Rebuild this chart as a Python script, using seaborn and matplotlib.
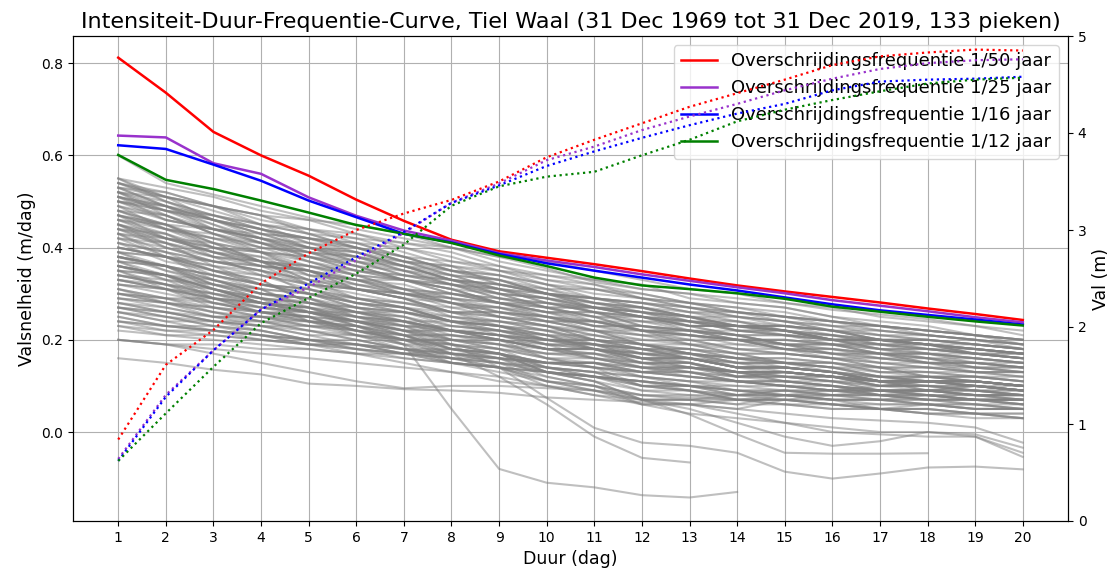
import matplotlib
matplotlib.use("Agg")
import matplotlib.pyplot as plt
from matplotlib.lines import Line2D
import pandas as pd
import seaborn as sns

duur = list(range(1, 21))

# Valsnelheid per piek (cm/dag) voor duur 1..20 dagen; None = reeks eindigt
pieken_hoog = [
    [55, 53, 51, 48, 46, 45, 43, 40, 38, 37, 35, 33, 31, 30, 28, 27, 25, 24, 23, 21],
    [55, 51, 49, 47, 44, 42, 41, 39, 36, 34, 33, 31, 30, 28, 27, 25, 24, 23, 21, 20],
    [54, 52, 49, 47, 46, 43, 41, 40, 37, 35, 33, 32, 29, 28, 27, 25, 23, 22, 21, 19],
    [54, 50, 47, 45, 43, 40, 38, 37, 35, 32, 30, 29, 27, 26, 24, 23, 22, 21, 20, 19],
    [53, 51, 49, 46, 44, 43, 40, 37, 36, 33, 31, 30, 28, 26, 25, 24, 23, 21, 20, 18],
    [53, 49, 46, 44, 42, 39, 37, 34, 33, 31, 29, 28, 27, 25, 23, 22, 21, 20, 19, 18],
    [53, 52, 49, 45, 43, 42, 39, 36, 35, 33, 32, 29, 28, 27, 25, 24, 23, 22, 21, 20],
    [52, 50, 46, 44, 42, 41, 38, 35, 34, 32, 31, 29, 27, 26, 25, 24, 22, 21, 20, 19],
    [52, 48, 46, 43, 40, 39, 36, 33, 32, 30, 28, 26, 25, 24, 22, 21, 20, 19, 18, 17],
    [52, 51, 48, 45, 44, 41, 40, 38, 35, 34, 32, 30, 28, 27, 26, 24, 23, 22, 21, 20],
    [51, 48, 46, 44, 40, 38, 37, 34, 31, 30, 28, 27, 26, 25, 24, 22, 21, 21, 20, 19],
    [51, 49, 45, 41, 40, 38, 35, 34, 33, 30, 29, 28, 27, 25, 24, 23, 21, 20, 19, 18],
    [51, 48, 47, 44, 42, 41, 38, 35, 34, 32, 29, 28, 26, 24, 23, 21, 20, 19, 18, 17],
    [50, 48, 44, 41, 39, 38, 35, 32, 31, 29, 27, 26, 25, 23, 23, 22, 20, 19, 19, 18],
    [50, 46, 44, 42, 39, 36, 35, 33, 30, 29, 28, 26, 24, 24, 22, 20, 20, 19, 17, 16],
    [50, 49, 46, 43, 42, 40, 37, 36, 34, 31, 31, 29, 28, 26, 25, 24, 23, 22, 21, 20],
    [55, 50, 47, 45, 41, 38, 36, 33, 30, 29, 27, 25, 24, 23, 22, 21, 19, 19, 18, 17],
    [54, 51, 46, 42, 40, 39, 36, 33, 32, 30, 27, 26, 24, 22, 22, 20, 19, 18, 17, 16],
    [52, 47, 44, 42, 38, 35, 34, 32, 29, 28, 26, 23, 22, 21, 19, 19, 18, 17, 15, 15],
    [50, 47, 43, 39, 38, 36, 33, 31, 30, 29, 26, 25, 24, 22, 21, 20, 19, 18, 17, 16],
    [53, 49, 44, 42, 40, 37, 34, 33, 31, 28, 27, 25, 22, 21, 19, 18, 17, 16, 15, 14],
    [51, 46, 44, 41, 37, 35, 33, 30, 29, 27, 24, 23, 21, 20, 18, 17, 16, 15, 14, 13],
    [52, 49, 47, 44, 41, 40, 37, 35, 32, 31, 28, 27, 25, 22, 21, 20, 18, 17, 16, 15],
    [50, 48, 45, 42, 41, 39, 36, 35, 33, 30, 29, 27, 24, 23, 22, 20, 20, 19, 18, 17],
    [54, 51, 49, 47, 43, 40, 38, 35, 33, 30, 29, 28, 26, 26, 25, 23, 23, 22, 21, 20],
    [51, 49, 46, 43, 42, 40, 37, 36, 32, 30, 28, 27, 25, 23, 23, 22, 20, 20, 19, 18],
]

pieken_midden = [
    [49, 46, 44, 43, 40, 37, 36, 34, 31, 30, 29, 27, 25, 25, 24, 22, 22, 21, 20, 19],
    [49, 47, 43, 40, 39, 36, 33, 32, 30, 27, 27, 25, 23, 23, 22, 20, 20, 19, 18, 17],
    [48, 45, 44, 42, 39, 38, 36, 33, 32, 30, 27, 27, 25, 23, 23, 22, 20, 20, 19, 18],
    [48, 44, 42, 40, 37, 34, 33, 31, 28, 28, 26, 24, 24, 23, 21, 21, 20, 18, 18, 17],
    [48, 47, 43, 40, 39, 37, 34, 33, 31, 28, 27, 26, 23, 21, 21, 20, 18, 18, 17, 16],
    [47, 44, 43, 41, 38, 37, 35, 32, 31, 29, 27, 26, 25, 23, 23, 22, 20, 20, 19, 18],
    [47, 45, 41, 37, 36, 34, 31, 30, 28, 26, 25, 24, 22, 22, 21, 19, 19, 18, 17, 16],
    [47, 44, 42, 41, 38, 35, 34, 32, 29, 28, 26, 23, 22, 21, 19, 19, 18, 16, 16, 15],
    [46, 45, 42, 39, 38, 36, 33, 32, 30, 27, 27, 25, 23, 23, 22, 20, 20, 19, 18, 17],
    [46, 42, 40, 39, 35, 33, 32, 29, 28, 26, 23, 23, 22, 20, 20, 19, 17, 17, 16, 15],
    [46, 44, 40, 39, 37, 34, 33, 31, 28, 27, 25, 22, 21, 20, 18, 18, 17, 15, 15, 14],
    [45, 42, 41, 39, 36, 35, 33, 30, 29, 27, 25, 25, 24, 22, 22, 21, 19, 19, 18, 17],
    [45, 43, 39, 36, 35, 33, 30, 29, 27, 24, 24, 22, 20, 20, 19, 17, 17, 16, 14, 14],
    [45, 42, 40, 38, 34, 33, 31, 28, 27, 26, 24, 24, 23, 21, 21, 20, 18, 18, 17, 16],
    [44, 43, 40, 37, 36, 34, 31, 30, 28, 25, 24, 22, 19, 19, 18, 16, 16, 15, 13, 13],
    [44, 40, 38, 37, 33, 32, 30, 27, 27, 25, 23, 23, 22, 20, 20, 19, 17, 17, 16, 15],
    [44, 42, 39, 38, 36, 33, 33, 31, 28, 27, 25, 22, 22, 21, 19, 19, 19, 17, 17, 16],
    [43, 41, 38, 37, 35, 32, 31, 29, 26, 25, 23, 21, 21, 20, 18, 18, 17, 15, 15, 14],
    [43, 39, 37, 36, 32, 31, 29, 26, 26, 24, 22, 22, 21, 19, 19, 18, 16, 16, 15, 14],
    [43, 42, 39, 36, 35, 33, 30, 29, 28, 26, 26, 25, 23, 23, 22, 20, 20, 19, 17, 17],
    [42, 40, 37, 36, 34, 31, 30, 28, 25, 24, 22, 19, 18, 17, 15, 15, 14, 12, 12, 11],
    [42, 38, 37, 35, 32, 31, 29, 26, 25, 23, 20, 19, 17, 15, 15, 14, 12, 12, 11, 10],
    [42, 41, 38, 36, 35, 32, 30, 30, 28, 26, 26, 25, 23, 23, 22, 20, 20, 19, 17, 17],
    [49, 44, 41, 39, 34, 33, 31, 28, 27, 25, 22, 21, 19, 17, 17, 16, 14, 14, 13, 12],
    [48, 45, 40, 37, 35, 31, 30, 28, 25, 24, 22, 19, 18, 17, 15, 15, 14, 12, 12, 12],
    [47, 42, 39, 37, 32, 31, 29, 26, 25, 23, 20, 19, 17, 14, 14, 13, 11, 11, 11, 10],
    [46, 43, 38, 34, 32, 29, 28, 26, 23, 22, 20, 17, 16, 14, 12, 12, 11, 9, 10, 9],
    [45, 40, 37, 35, 30, 29, 27, 24, 23, 21, 18, 17, 15, 12, 12, 11, 9, 9, 9, 8],
    [44, 41, 36, 32, 30, 27, 26, 24, 21, 20, 18, 15, 14, 13, 11, 11, 11, 9, 10, 9],
    [43, 38, 35, 33, 28, 27, 25, 22, 21, 19, 16, 15, 13, 11, 11, 10, 9, 9, 9, 8],
    [47, 45, 41, 37, 35, 31, 29, 25, 24, 22, 19, 18, 16, 14, 14, 13, 11, 11, 10, 9],
    [45, 41, 39, 37, 33, 29, 27, 24, 23, 21, 18, 17, 16, 14, 14, 13, 11, 12, 11, 10],
]

pieken_laag = [
    [41, 39, 37, 35, 33, 31, 30, 28, 26, 25, 23, 22, 21, 20, 18, 17, 17, 16, 14, 14],
    [41, 39, 35, 32, 31, 28, 27, 24, 23, 20, 19, 16, 15, 13, 13, 12, 10, 11, 10, 9],
    [40, 38, 36, 34, 32, 30, 28, 27, 25, 23, 21, 19, 17, 16, 15, 13, 12, 11, 10, 9],
    [40, 38, 34, 31, 30, 27, 26, 23, 22, 19, 18, 15, 15, 13, 13, 12, 11, 11, 11, 10],
    [40, 38, 36, 35, 33, 31, 29, 28, 26, 25, 24, 22, 21, 20, 19, 17, 16, 15, 15, 14],
    [39, 38, 35, 32, 31, 28, 27, 24, 23, 20, 19, 16, 15, 12, 12, 11, 9, 9, 8, 7],
    [39, 36, 34, 32, 30, 28, 26, 24, 22, 21, 19, 18, 17, 16, 14, 13, 12, 11, 11, 10],
    [39, 38, 35, 34, 31, 29, 28, 26, 26, 24, 24, 22, 22, 20, 20, 19, 17, 17, 16, 15],
    [38, 36, 34, 32, 30, 28, 26, 24, 22, 20, 18, 16, 14, 13, 11, 10, 9, 8, 7, 6],
    [38, 36, 32, 29, 28, 25, 24, 21, 20, 18, 18, 16, 16, 14, 14, 13, 11, 11, 11, 10],
    [38, 36, 34, 32, 31, 29, 27, 26, 24, 23, 22, 21, 20, 18, 17, 16, 15, 14, 14, 13],
    [37, 36, 33, 30, 29, 26, 25, 22, 21, 18, 17, 14, 13, 11, 11, 10, 8, 9, 8, 7],
    [37, 34, 31, 29, 27, 25, 23, 22, 20, 19, 18, 17, 16, 14, 13, 12, 11, 10, 10, 9],
    [37, 36, 33, 30, 29, 26, 26, 24, 24, 22, 22, 20, 20, 18, 18, 17, 15, 15, 14, 13],
    [36, 34, 32, 30, 28, 26, 24, 22, 20, 18, 16, 14, 13, 12, 11, 10, 9, 9, 8, 8],
    [36, 34, 30, 27, 26, 23, 22, 20, 20, 18, 18, 16, 16, 14, 14, 13, 11, 11, 10, 9],
    [36, 34, 33, 31, 30, 28, 27, 25, 24, 23, 21, 20, 19, 18, 17, 16, 15, 14, 13, 13],
    [35, 34, 31, 28, 27, 24, 23, 20, 19, 16, 15, 12, 11, 9, 9, 8, 7, 7, 7, 6],
    [35, 32, 30, 28, 26, 24, 22, 21, 19, 18, 17, 16, 14, 13, 12, 11, 10, 10, 9, 8],
    [35, 34, 31, 28, 27, 24, 24, 22, 22, 20, 20, 18, 18, 16, 16, 15, 13, 13, 12, 11],
    [34, 32, 30, 28, 26, 24, 22, 20, 18, 16, 14, 12, 10, 9, 8, 7, 7, 6, 5, 5],
    [34, 32, 28, 26, 25, 22, 21, 18, 17, 15, 15, 13, 13, 11, 11, 10, 8, 8, 7, 6],
    [34, 32, 31, 29, 28, 26, 25, 23, 22, 21, 20, 19, 17, 16, 15, 14, 13, 12, 12, 11],
    [33, 32, 29, 26, 25, 22, 21, 18, 17, 14, 13, 10, 10, 8, 8, 7, 5, 6, 5, 5],
    [33, 31, 29, 28, 27, 25, 24, 22, 21, 20, 19, 18, 16, 15, 14, 13, 12, 11, 11, 10],
    [33, 31, 27, 25, 24, 21, 20, 17, 16, 13, 12, 9, 9, 7, 8, 7, 6, 6, 6, 5],
    [41, 37, 35, 33, 28, 26, 23, 19, 17, 13, 11, 7, 7, 6, 8, 8, 9, 9, 9, 9],
    [40, 38, 33, 30, 29, 25, 22, 18, 16, 12, 10, 6, 6, 5, 7, 7, 7, 7, 6, 5],
    [39, 35, 33, 31, 26, 24, 21, 17, 15, 11, 9, 6, 6, 7, 7, 8, 8, 8, 7, 7],
    [38, 36, 31, 28, 27, 23, 20, 16, 14, 10, 9, 7, 7, 8, 8, 9, 9, 9, 8, 8],
    [37, 33, 31, 29, 24, 22, 19, 15, 14, 11, 10, 8, 8, 8, 9, 9, 10, 10, 9, 9],
    [36, 34, 29, 26, 25, 21, 18, 15, 14, 11, 10, 8, 7, 7, 7, 6, 6, 6, 5, 5],
    [35, 31, 29, 28, 24, 23, 21, 18, 17, 13, 11, 7, 7, 6, 6, 6, 5, 5, 4, 4],
    [38, 36, 32, 30, 29, 27, 24, 22, 20, 16, 14, 10, 9, 7, 7, 6, 5, 4, 4, 3],
    [36, 33, 32, 31, 27, 26, 24, 20, 18, 14, 12, 10, 9, 8, 8, 8, 8, 7, 7, 6],
    [34, 33, 29, 27, 26, 24, 21, 19, 17, 13, 12, 10, 9, 7, 7, 6, 5, 5, 4, 4],
]

pieken_zeer_laag = [
    [32, 30, 28, 26, 24, 22, 20, 18, 16, 14, 12, 11, 9, 8, 7, 6, 5, 4, 4, 3],
    [32, 31, 28, 26, 26, 25, 23, 23, 22, 20, 20, 18, 18, 16, 16, 15, 13, 13, 12, 11],
    [31, 29, 27, 25, 23, 21, 19, 17, 15, 13, 11, 9, 8, 7, 6, 5, 5, 4, 3, 3],
    [31, 28, 27, 26, 24, 24, 22, 22, 21, 19, 19, 17, 17, 15, 15, 14, 12, 12, 11, 10],
    [30, 28, 26, 24, 22, 20, 18, 16, 15, 13, 12, 11, 10, 9, 9, 8, 8, 7, 7, 7],
    [30, 29, 26, 25, 25, 24, 22, 22, 21, 19, 19, 17, 17, 15, 15, 14, 12, 12, 11, 10],
    [29, 27, 25, 23, 21, 19, 17, 16, 15, 14, 13, 12, 11, 10, 10, 9, 9, 8, 8, 8],
    [29, 28, 25, 24, 24, 23, 21, 21, 20, 18, 18, 16, 16, 14, 14, 13, 11, 11, 10, 9],
    [28, 26, 24, 22, 20, 18, 17, 15, 14, 13, 12, 11, 10, 9, 8, 7, 7, 6, 6, 6],
    [28, 26, 25, 25, 23, 23, 21, 21, 20, 18, 18, 16, 16, 14, 14, 13, 11, 11, 11, 10],
    [27, 25, 23, 21, 19, 18, 16, 15, 14, 13, 12, 11, 10, 9, 8, 7, 7, 6, 5, 5],
    [27, 26, 24, 23, 23, 22, 20, 20, 19, 17, 17, 15, 15, 13, 13, 12, 10, 10, 9, 8],
    [26, 24, 22, 21, 20, 19, 18, 17, 16, 15, 14, 13, 12, 11, 10, 9, 8, 7, 7, 7],
    [26, 24, 24, 23, 21, 21, 19, 19, 18, 16, 16, 14, 14, 13, 13, 12, 11, 11, 10, 9],
    [25, 23, 22, 21, 20, 19, 18, 17, 16, 15, 14, 13, 12, 11, 10, 9, 9, 8, 7, 7],
    [25, 23, 23, 22, 20, 20, 18, 18, 17, 15, 15, 13, 13, 12, 12, 12, 10, 11, 10, 10],
    [24, 23, 22, 21, 20, 19, 18, 17, 16, 15, 14, 13, 12, 11, 10, 9, 9, 8, 8, 8],
    [24, 22, 22, 21, 19, 19, 17, 17, 17, 15, 15, 13, 14, 12, 13, 12, 11, 11, 11, 10],
    [23, 22, 21, 20, 19, 18, 17, 16, 15, 14, 13, 12, 11, 11, 10, 10, 9, 9, 8, 8],
    [23, 21, 21, 20, 19, 19, 17, 18, 17, 15, 15, 14, 14, 12, 13, 12, 11, 11, 11, 10],
    [22, 21, 20, 19, 18, 17, 16, 15, 14, 13, 12, 11, 10, 10, 9, 9, 8, 8, 7, 7],
    [20, 19, 19, 18, 18, 17, 17, 16, 16, 15, 15, 14, 14, 13, 13, 12, 12, 11, 11, 10],
    [32, 31, 30, 29, 28, 27, 26, 25, 23, 22, 20, 18, 16, 15, 13, 12, 11, 10, 10, 9],
    [31, 29, 29, 28, 26, 26, 24, 24, 23, 21, 21, 19, 19, 17, 17, 16, 14, 14, 13, 12],
    [29, 28, 27, 26, 25, 24, 23, 22, 21, 20, 19, 18, 17, 16, 15, 14, 14, 13, 13, 13],
    [28, 27, 25, 25, 24, 23, 20, 19, 17, 14, 13, 10, 10, 8, 9, 8, 7, 8, 7, 7],
    [30, 29, 28, 27, 26, 25, 24, 22, 20, 18, 16, 14, 12, 11, 10, 9, 8, 7, 6, 5],
    [27, 26, 24, 24, 23, 22, 20, 20, 19, 17, 17, 15, 15, 13, 13, 12, 10, 10, 9, 8],
    [26, 25, 24, 23, 22, 21, 20, 19, 18, 17, 16, 15, 14, 13, 12, 11, 10, 9, 8, 7],
]

N = None
pieken_afwijkend = [
    [60, 54, 51.5, 49, 46.5, 44, 42, 40, 38, 35.5, 32.5, 31, 30, 29, 28, 26.5, 25.5, 24.5, 23, 22],
    [38, 35, 32, 29, 26, 23, 19, 5, -8, -11, -12, -13.7, -14.2, -13, N, N, N, N, N, N],
    [33, 31, 29, 27, 25, 22, 20, 17, 12, 6, -1, -5.6, -6.6, N, N, N, N, N, N, N],
    [30, 28, 26, 24, 22, 20, 18, 16, 14, 12, 10, 7, 3.8, -0.5, -4.5, -4.7, -4.7, -4.6, N, N],
    [36, 34, 31, 28, 26, 24, 22, 19, 14, 7.4, 0.9, -2.3, -3, -4.5, -8.6, -10.1, -9, -7.7, -7.5, -8.1],
    [27, 25, 23, 22, 20, 18, 17, 15, 13, 11, 9, 7, 5, 2, -1, -3, -2, 0, -1, -5.4],
    [24, 23, 22, 20, 19, 17, 15, 13, 12, 10, 8, 7, 6, 4, 2, 0, -0.5, -1, -1, -4.5],
    [20, 19, 18, 17, 16, 15, 14, 13, 11, 10, 8, 6, 4, 3, 2, 1, 0, 0, -0.5, -3.4],
    [16, 15, 13.5, 12.5, 10.5, 10, 9.3, 9, 8.5, 7.5, 7, 6.5, 6, 5, 4, 3, 2.5, 2, 1, -2.3],
    [20, 19, 17, 15, 13, 11, 9.5, 10, 10, 9.5, 9, 8, 7.5, 7, 6, 5, 5, 5, 4, 3],
]

# Overschrijdingsfrequenties
frequenties = [
    "Overschrijdingsfrequentie 1/50 jaar",
    "Overschrijdingsfrequentie 1/25 jaar",
    "Overschrijdingsfrequentie 1/16 jaar",
    "Overschrijdingsfrequentie 1/12 jaar",
]
kleuren = ["red", "darkorchid", "blue", "green"]

# Valsnelheid (m/dag) per frequentie
valsnelheid_1_50 = [0.812, 0.736, 0.651, 0.600, 0.556, 0.504, 0.458, 0.417, 0.392, 0.378,
                    0.364, 0.349, 0.333, 0.318, 0.305, 0.293, 0.281, 0.268, 0.256, 0.243]
valsnelheid_1_25 = [0.643, 0.639, 0.583, 0.560, 0.509, 0.469, 0.437, 0.415, 0.388, 0.372,
                    0.358, 0.342, 0.328, 0.314, 0.301, 0.286, 0.274, 0.262, 0.249, 0.238]
valsnelheid_1_16 = [0.622, 0.614, 0.580, 0.545, 0.502, 0.466, 0.430, 0.411, 0.386, 0.366,
                    0.350, 0.335, 0.320, 0.307, 0.292, 0.277, 0.264, 0.254, 0.244, 0.233]
valsnelheid_1_12 = [0.601, 0.547, 0.527, 0.502, 0.476, 0.449, 0.430, 0.410, 0.383, 0.360,
                    0.335, 0.318, 0.310, 0.301, 0.289, 0.272, 0.261, 0.250, 0.240, 0.231]

# Totale val (m) per frequentie
val_1_50 = [0.84, 1.61, 1.97, 2.45, 2.76, 3.00, 3.17, 3.31, 3.50, 3.75,
            3.93, 4.10, 4.27, 4.41, 4.55, 4.70, 4.79, 4.83, 4.86, 4.85]
val_1_25 = [0.64, 1.30, 1.76, 2.18, 2.41, 2.69, 2.97, 3.28, 3.48, 3.72,
            3.86, 4.03, 4.17, 4.30, 4.44, 4.56, 4.66, 4.72, 4.75, 4.76]
val_1_16 = [0.62, 1.28, 1.76, 2.18, 2.45, 2.72, 2.98, 3.28, 3.46, 3.66,
            3.81, 3.95, 4.08, 4.20, 4.30, 4.44, 4.53, 4.55, 4.56, 4.58]
val_1_12 = [0.62, 1.11, 1.59, 2.04, 2.30, 2.55, 2.85, 3.25, 3.45, 3.55,
            3.60, 3.77, 3.93, 4.12, 4.24, 4.34, 4.43, 4.51, 4.55, 4.57]

# Lange tabel met alle pieken
rijen = []
alle_pieken = pieken_hoog + pieken_midden + pieken_laag + pieken_zeer_laag + pieken_afwijkend
for nr, reeks in enumerate(alle_pieken):
    for d, v in zip(duur, reeks):
        if v is not None:
            rijen.append({"piek": nr, "Duur": d, "Valsnelheid": v / 100.0})
df_pieken = pd.DataFrame(rijen)

freq_rijen = []
for naam, vs, val in zip(frequenties,
                         [valsnelheid_1_50, valsnelheid_1_25, valsnelheid_1_16, valsnelheid_1_12],
                         [val_1_50, val_1_25, val_1_16, val_1_12]):
    for d, a, b in zip(duur, vs, val):
        freq_rijen.append({"frequentie": naam, "Duur": d, "Valsnelheid": a, "Val": b})
df_freq = pd.DataFrame(freq_rijen)
palet = dict(zip(frequenties, kleuren))

fig = plt.figure(figsize=(11.14, 5.71), dpi=100)
ax = fig.add_axes([73 / 1114, 1 - 521 / 571, (1068 - 73) / 1114, (521 - 36) / 571])

sns.lineplot(data=df_pieken, x="Duur", y="Valsnelheid", units="piek", estimator=None,
             color="grey", alpha=0.5, lw=1.5, legend=False, ax=ax)
sns.lineplot(data=df_freq, x="Duur", y="Valsnelheid", hue="frequentie",
             hue_order=frequenties, palette=palet, lw=1.8, legend=False, ax=ax)

ax2 = ax.twinx()
sns.lineplot(data=df_freq, x="Duur", y="Val", hue="frequentie",
             hue_order=frequenties, palette=palet, lw=1.6, linestyle=":",
             legend=False, ax=ax2)

ax.set_xlim(0.05, 20.95)
ax.set_ylim(-0.193, 0.859)
ax2.set_ylim(0, 5)
ax.set_xticks(duur)
ax.set_yticks([0.0, 0.2, 0.4, 0.6, 0.8])
ax2.set_yticks([0, 1, 2, 3, 4, 5])
ax.grid(True, color="#b0b0b0", lw=0.8)
ax.set_axisbelow(True)

ax.tick_params(labelsize=10)
ax2.tick_params(labelsize=10)
ax.set_xlabel("Duur (dag)", fontsize=12.5)
ax.set_ylabel("Valsnelheid (m/dag)", fontsize=12.5)
ax2.set_ylabel("Val (m)", fontsize=12.5)
ax.set_title("Intensiteit-Duur-Frequentie-Curve, Tiel Waal "
             "(31 Dec 1969 tot 31 Dec 2019, 133 pieken)", fontsize=16)

handles = [Line2D([], [], color=k, lw=1.8) for k in kleuren]
ax.legend(handles, frequenties, loc="upper right", fontsize=13)

fig.savefig("out.png", dpi=100)
